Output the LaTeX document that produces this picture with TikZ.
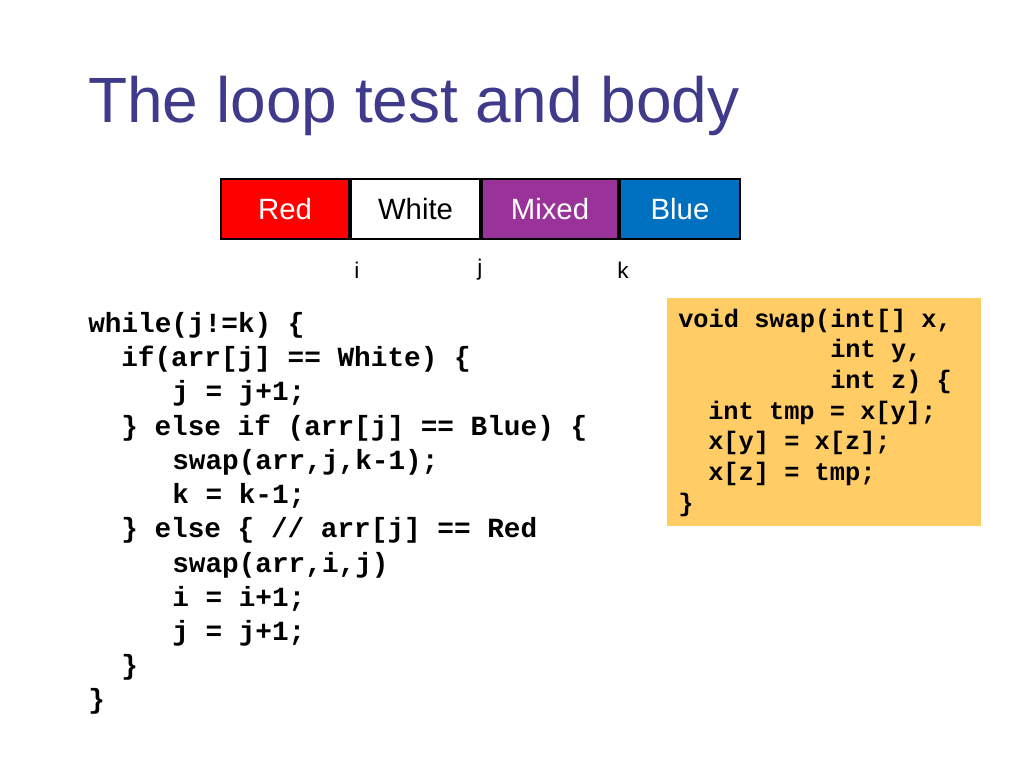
\documentclass[tikz,border=0pt]{standalone}
\usepackage{fontspec}
\setmainfont{Liberation Sans}
\setmonofont{Liberation Mono}
\usetikzlibrary{positioning}
\definecolor{titleblue}{HTML}{3F3A8A}
\definecolor{mixedpurple}{HTML}{993399}
\definecolor{blueblue}{HTML}{0070C0}
\definecolor{swaporange}{HTML}{FFCC66}
\tikzset{%
  cell/.style = {rectangle,draw,line width=1.5pt,minimum width=#1*0.75pt,
        minimum height=45pt,inner sep=0pt,font=\fontsize{22}{26}\selectfont},
  idx/.style = {font=\fontsize{17}{20}\selectfont},
  code/.style = {anchor=base west,inner sep=0pt,
        font=\ttfamily\bfseries\fontsize{20.8}{24}\selectfont},
  scode/.style = {anchor=base west,inner sep=0pt,
        font=\ttfamily\bfseries\fontsize{19}{22}\selectfont}
}
\begin{document}
\begin{tikzpicture}[x=0.75pt,y=-0.75pt]
    \useasboundingbox (0,0) rectangle (1024,768);
    \node[anchor=base west,inner sep=0pt,text=titleblue,
        font=\fontsize{48}{56}\selectfont] (title) at (88,122) {The loop test and body};
    % the array
    \node[cell=128,fill=red,text=white] (red) at (285,209) {Red};
    \node[cell=129,fill=white,right=0pt of red] (white) {White};
    \node[cell=136,fill=mixedpurple,text=white,right=0pt of white] (mixed) {Mixed};
    \node[cell=120,fill=blueblue,text=white,right=0pt of mixed] (blue) {Blue};
    \node[idx] (i) at (357,270) {i};
    \node[idx] (j) at (480,270) {j};
    \node[idx] (k) at (623,270) {k};
    % the loop
    \node[code] (l1) at (88,332) {while(j!=k) \{};
    \node[code] (l2) at (121,366) {if(arr[j] == White) \{};
    \node[code] (l3) at (172,400) {j = j+1;};
    \node[code] (l4) at (121,435) {\} else if (arr[j] == Blue) \{};
    \node[code] (l5) at (172,469) {swap(arr,j,k-1);};
    \node[code] (l6) at (172,503) {k = k-1;};
    \node[code] (l7) at (121,537) {\} else \{ // arr[j] == Red};
    \node[code] (l8) at (172,572) {swap(arr,i,j)};
    \node[code] (l9) at (172,606) {i = i+1;};
    \node[code] (l10) at (172,640) {j = j+1;};
    \node[code] (l11) at (121,674) {\}};
    \node[code] (l12) at (88,708) {\}};
    % swap
    \fill[swaporange] (667,298) rectangle (981,526);
    \node[scode] (s1) at (678,327) {void swap(int[] x,};
    \node[scode] (s2) at (830,357) {int y,};
    \node[scode] (s3) at (830,388) {int z) \{};
    \node[scode] (s4) at (708,419) {int tmp = x[y];};
    \node[scode] (s5) at (708,449) {x[y] = x[z];};
    \node[scode] (s6) at (708,480) {x[z] = tmp;};
    \node[scode] (s7) at (678,511) {\}};
\end{tikzpicture}
\end{document}
